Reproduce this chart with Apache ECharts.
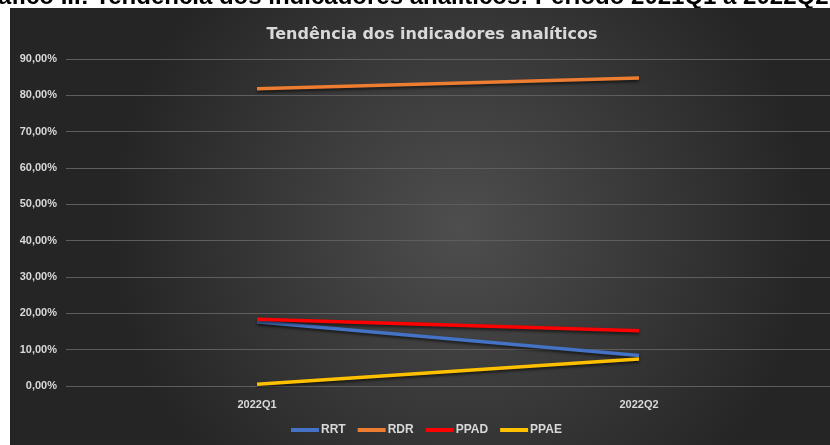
<!DOCTYPE html>
<html>
<head>
<meta charset="utf-8">
<script src="https://cdn.jsdelivr.net/npm/echarts@6/dist/echarts.min.js"></script>
<style>
  html, body { margin: 0; padding: 0; background: #fff; }
  .charts { width: 830px; height: 445px; }
</style>
</head>
<body>
<div class="charts"></div>
<script>
var categories = ['2022Q1', '2022Q2'];
var seriesNames = ['RRT', 'RDR', 'PPAD', 'PPAE'];
var rrt = [17.7, 8.4];
var rdr = [81.8, 84.8];
var ppad = [18.4, 15.2];
var ppae = [0.5, 7.4];
var colors = ['#4472C4', '#ED7D31', '#FF0000', '#FFC000'];

var charts = document.querySelector('.charts');
var myChart = echarts.init(charts, null, {renderer: 'canvas'});

var narrow = '"Liberation Sans", Arial, sans-serif';
var labelColor = '#d9d9d9';

function mkSeries(name, data, color) {
    return {
        name: name,
        type: 'line',
        data: data,
        showSymbol: false,
        symbol: 'none',
        lineStyle: {
            color: color,
            width: 3.5,
            shadowColor: 'rgba(0,0,0,0.6)',
            shadowBlur: 3,
            shadowOffsetY: 2
        },
        itemStyle: {color: color}
    };
}

var option = {
    backgroundColor: '#ffffff',
    animation: false,
    graphic: [
        {
            // legenda do documento, cortada pelo topo do gráfico
            type: 'text',
            z: -20,
            silent: true,
            style: {
                x: -30,
                y: 9,
                verticalAlign: 'bottom',
                text: 'Gráfico III: Tendência dos indicadores analíticos: Período 2021Q1 a 2022Q2',
                fill: '#000',
                font: 'bold 24px "Liberation Sans", Arial, sans-serif'
            }
        },
        {
            type: 'rect',
            z: -10,
            silent: true,
            shape: {x: 10, y: 8, width: 820, height: 437},
            style: {
                fill: new echarts.graphic.RadialGradient(0.55, 0.5, 0.8, [
                    {offset: 0, color: '#4e4e4e'},
                    {offset: 1, color: '#252525'}
                ])
            }
        }
    ],
    title: {
        text: 'Tendência dos indicadores analíticos',
        left: 427,
        textAlign: 'center',
        top: 22,
        textStyle: {
            color: labelColor,
            fontSize: 16,
            fontWeight: 'bold',
            fontFamily: '"DejaVu Sans", sans-serif'
        }
    },
    legend: {
        data: seriesNames,
        bottom: 4,
        left: 286,
        icon: 'rect',
        itemWidth: 28,
        itemHeight: 4,
        itemGap: 12,
        textStyle: {
            color: labelColor,
            fontSize: 12,
            fontWeight: 'bold',
            fontFamily: narrow,
            padding: [0, 0, 0, -3]
        }
    },
    grid: {
        left: 66,
        right: 0,
        top: 59,
        bottom: 59,
        containLabel: false
    },
    xAxis: {
        type: 'category',
        data: categories,
        boundaryGap: true,
        axisLine: {show: false},
        axisTick: {show: false},
        axisLabel: {
            color: labelColor,
            fontSize: 11,
            fontWeight: 'bold',
            fontFamily: narrow,
            margin: 13
        }
    },
    yAxis: {
        type: 'value',
        min: 0,
        max: 90,
        interval: 10,
        axisLine: {show: false},
        axisTick: {show: false},
        splitLine: {lineStyle: {color: '#5e5e5e', width: 1}},
        axisLabel: {
            color: labelColor,
            fontSize: 11,
            fontWeight: 'bold',
            fontFamily: narrow,
            margin: 9,
            formatter: function (v) {
                return v.toFixed(2).replace('.', ',') + '%';
            }
        }
    },
    series: [
        mkSeries(seriesNames[0], rrt, colors[0]),
        mkSeries(seriesNames[1], rdr, colors[1]),
        mkSeries(seriesNames[2], ppad, colors[2]),
        mkSeries(seriesNames[3], ppae, colors[3])
    ]
};

myChart.setOption(option);
</script>
</body>
</html>
